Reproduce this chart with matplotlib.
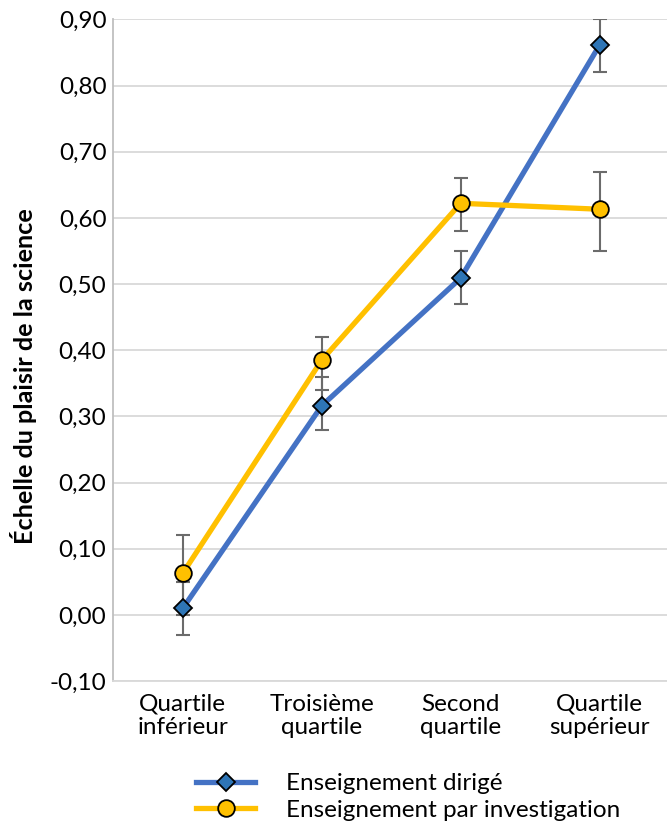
import matplotlib.pyplot as plt
import numpy as np

plt.rcParams['font.family'] = ['Lato', 'DejaVu Sans']

categories = ['Quartile\ninférieur', 'Troisième\nquartile', 'Second\nquartile', 'Quartile\nsupérieur']
dirige = [0.01, 0.316, 0.509, 0.861]
dirige_low = [-0.03, 0.28, 0.47, 0.82]
dirige_high = [0.05, 0.36, 0.55, 0.90]
investig = [0.063, 0.385, 0.622, 0.613]
investig_low = [0.00, 0.34, 0.58, 0.55]
investig_high = [0.12, 0.42, 0.66, 0.67]
yticks = np.round(np.arange(-0.1, 0.91, 0.1), 2)

fig = plt.figure(figsize=(6.67, 8.23), dpi=100)
ax = fig.add_axes([0.170, 0.1725, 0.833, 0.804])

x = np.arange(len(categories))
d = np.array(dirige)
i = np.array(investig)

ax.errorbar(x, d, yerr=[d - np.array(dirige_low), np.array(dirige_high) - d],
            fmt='none', ecolor='#6b6b6b', elinewidth=1.5, capsize=5, capthick=1.5, zorder=3)
ax.errorbar(x, i, yerr=[i - np.array(investig_low), np.array(investig_high) - i],
            fmt='none', ecolor='#6b6b6b', elinewidth=1.5, capsize=5, capthick=1.5, zorder=3)

ax.plot(x, d, color='#4472C4', linewidth=3.8, marker='D', markersize=9,
        markerfacecolor='#2E75B6', markeredgecolor='black', markeredgewidth=1.3,
        label='Enseignement dirigé', zorder=4)
ax.plot(x, i, color='#FFC000', linewidth=3.8, marker='o', markersize=12,
        markerfacecolor='#FFC000', markeredgecolor='black', markeredgewidth=1.3,
        label='Enseignement par investigation', zorder=5)

ax.set_xlim(-0.5, 3.5)
ax.set_ylim(-0.1, 0.9)
ax.set_yticks(yticks)
ax.set_yticklabels([f'{v:.2f}'.replace('.', ',') for v in yticks], fontsize=17.5)
ax.set_xticks(x)
ax.set_xticklabels(categories, fontsize=17.5, linespacing=1.12)
ax.tick_params(axis='y', length=0, pad=5)
ax.tick_params(axis='x', length=0, pad=9)
ax.grid(axis='y', color='#d9d9d9', linewidth=1.3)
ax.set_axisbelow(True)
for s in ['top', 'right']:
    ax.spines[s].set_visible(False)
ax.spines['left'].set_color('#bfbfbf')
ax.spines['bottom'].set_color('#d9d9d9')
ax.spines['left'].set_linewidth(1.3)
ax.spines['bottom'].set_linewidth(1.3)

ax.set_ylabel('Échelle du plaisir de la science', fontsize=18.2, fontweight='bold')
ax.yaxis.set_label_coords(-0.138, 0.461)

fig.legend(loc='upper left', bbox_to_anchor=(0.28, 0.072), frameon=False,
           fontsize=17.5, handlelength=2.4, labelspacing=0.22, handletextpad=1.3,
           borderaxespad=0)

fig.savefig('out.png', dpi=100)
